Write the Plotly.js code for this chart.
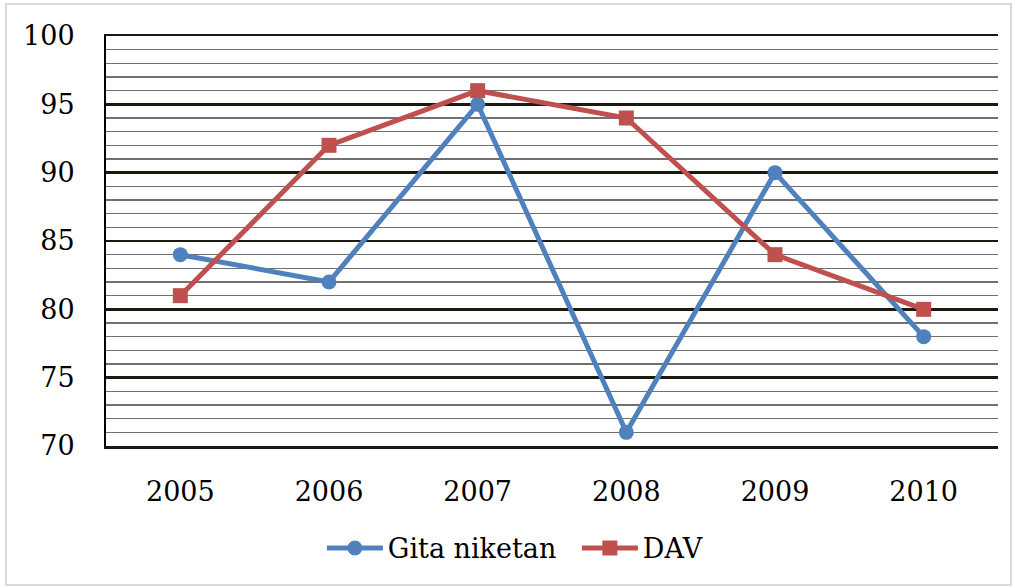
<!DOCTYPE html>
<html><head><meta charset="utf-8">
<script src="https://cdn.plot.ly/plotly-3.0.1.min.js"></script>
<style>html,body{margin:0;padding:0;background:#fff}#c{width:1015px;height:588px}</style>
</head><body><div id="c"></div>
<script>
const years = ['2005','2006','2007','2008','2009','2010'];
const gitaNiketan = [84, 82, 95, 71, 90, 78];
const dav = [81, 92, 96, 94, 84, 80];
const yTicks = [70, 75, 80, 85, 90, 95, 100];

const font = '"DejaVu Serif", "Liberation Serif", serif';
const traces = [
  {x: years, y: gitaNiketan, name: 'Gita niketan', type: 'scatter', mode: 'lines+markers',
   line: {color: '#4F81BD', width: 5}, marker: {symbol: 'circle', size: 15, color: '#4F81BD'}},
  {x: years, y: dav, name: 'DAV', type: 'scatter', mode: 'lines+markers',
   line: {color: '#C0504D', width: 5}, marker: {symbol: 'square', size: 15, color: '#C0504D'}}
];
const layout = {
  width: 1015, height: 588,
  margin: {l: 106, r: 17, t: 36, b: 142},
  paper_bgcolor: '#fff', plot_bgcolor: '#fff',
  font: {family: font, size: 27, color: '#000'},
  showlegend: true,
  legend: {orientation: 'h', x: 0.242, xanchor: 'left', y: -0.19, yanchor: 'top',
           font: {family: font, size: 27}, itemwidth: 56, entrywidth: 184, traceorder: 'normal'},
  xaxis: {type: 'category', range: [-0.5, 5.5], showgrid: false, zeroline: false,
          showline: true, mirror: true, linecolor: '#1a1a10', linewidth: 2.5,
          ticks: '', ticklabelstandoff: 20, tickfont: {family: font, size: 27}},
  yaxis: {range: [70, 100], tickvals: yTicks, showgrid: true, gridcolor: '#1a1a10', gridwidth: 2.5,
          zeroline: false, showline: true, linecolor: '#000', linewidth: 2,
          ticks: '', ticklabelstandoff: 24, tickfont: {family: font, size: 27},
          minor: {dtick: 1, tick0: 70, showgrid: true, gridcolor: '#707070', gridwidth: 1.5}},
  shapes: [{type: 'rect', xref: 'paper', yref: 'paper', x0: -0.1121, x1: 1.0146, y0: -0.339, y1: 1.078,
            line: {color: '#d9d9d9', width: 2}, layer: 'below'}]
};
Plotly.newPlot('c', traces, layout, {displayModeBar: false, staticPlot: true});
</script></body></html>
